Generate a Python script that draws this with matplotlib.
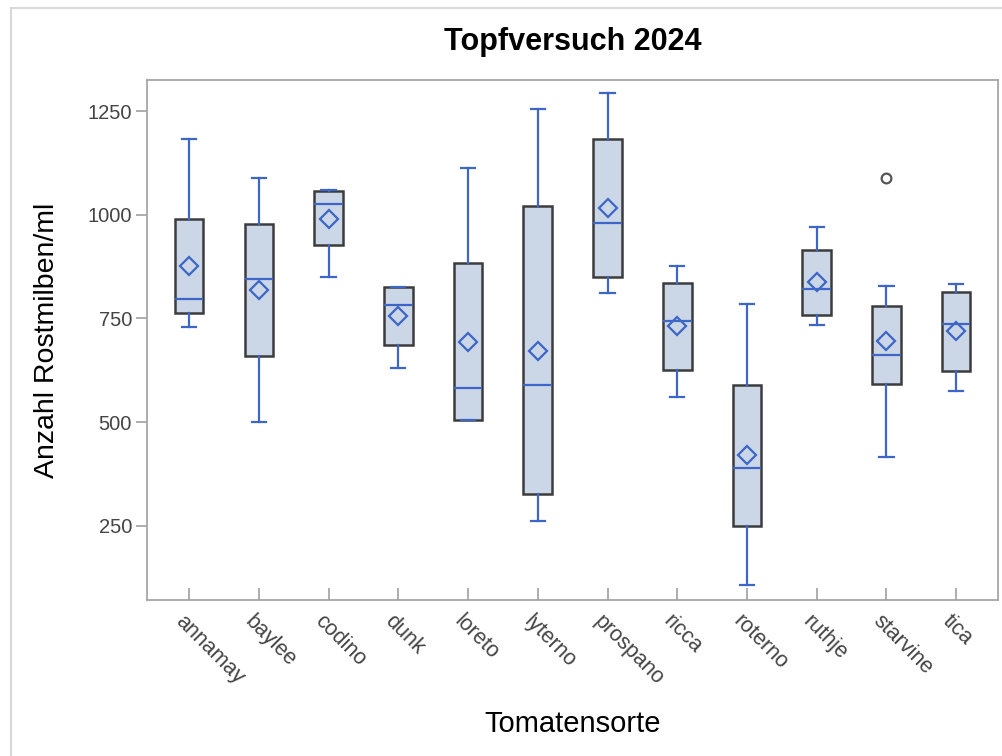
import matplotlib
matplotlib.use("Agg")
import matplotlib.pyplot as plt
from matplotlib.patches import Rectangle
import matplotlib.transforms as mtransforms

plt.rcParams['font.family'] = ['Liberation Sans', 'DejaVu Sans']

# Daten
sorten = ['annamay', 'baylee', 'codino', 'dunk', 'loreto', 'lyterno',
          'prospano', 'ricca', 'roterno', 'ruthje', 'starvine', 'tica']
whisker_lo = [730, 500, 850, 630, 504, 262, 812, 560, 108, 735, 416, 575]
q1 = [762, 660, 927, 686, 506, 327, 850, 626, 248, 758, 593, 622]
median = [796, 845, 1027, 782, 582, 589, 981, 745, 390, 821, 662, 736]
q3 = [989, 977, 1057, 825, 883, 1021, 1183, 836, 589, 915, 779, 814]
whisker_hi = [1184, 1088, 1060, 825, 1113, 1256, 1295, 877, 784, 970, 829, 832]
mittel = [877, 819, 991, 755, 693, 672, 1017, 731, 420, 837, 696, 719]
ausreisser = [[], [], [], [], [], [], [], [], [], [], [1090], []]

stats = []
for i in range(len(sorten)):
    stats.append({'label': sorten[i], 'whislo': whisker_lo[i], 'q1': q1[i],
                  'med': median[i], 'q3': q3[i], 'whishi': whisker_hi[i],
                  'mean': mittel[i], 'fliers': ausreisser[i]})

blau = '#3d66c6'
fig = plt.figure(figsize=(10.02, 7.56), dpi=100)
ax = fig.add_axes([0.147, 0.206, 0.849, 0.688])

ax.bxp(stats, positions=range(1, 13), widths=0.41, patch_artist=True,
       showmeans=True, showfliers=True,
       boxprops=dict(facecolor='#cbd6e7', edgecolor='#3c3c3c', linewidth=1.8),
       whiskerprops=dict(color=blau, linewidth=1.6),
       capprops=dict(color=blau, linewidth=1.6),
       medianprops=dict(color=blau, linewidth=1.6),
       meanprops=dict(marker='D', markerfacecolor='none', markeredgecolor=blau,
                      markeredgewidth=1.6, markersize=9),
       flierprops=dict(marker='o', markerfacecolor='none', markeredgecolor='#555555',
                       markeredgewidth=1.6, markersize=7))

ax.set_xlim(0.4, 12.6)
ax.set_ylim(70, 1325)
ax.set_yticks([250, 500, 750, 1000, 1250])

for s in ax.spines.values():
    s.set_color('#a0a0a0')
    s.set_linewidth(1.2)
ax.tick_params(axis='y', colors='#a0a0a0', length=8, width=1.2, direction='out',
               labelcolor='#444444', labelsize=14.5, pad=3)
ax.tick_params(axis='x', colors='#a0a0a0', length=9, width=1.2, direction='in',
               labelcolor='#444444', labelsize=15.5, pad=4)
ax.set_xticklabels(sorten, rotation=-45, ha='left', va='top', rotation_mode='anchor')
verschiebung = mtransforms.ScaledTranslation(-3 / 100, -5 / 100, fig.dpi_scale_trans)
for lab in ax.get_xticklabels():
    lab.set_transform(lab.get_transform() + verschiebung)

ax.set_title('Topfversuch 2024', fontsize=22, fontweight='bold', pad=22)
ax.set_xlabel('Tomatensorte', fontsize=21, labelpad=15)
ax.set_ylabel('Anzahl Rostmilben/ml', fontsize=20.5, labelpad=20)

# Rahmen um die Grafik
fig.patches.append(Rectangle((0.011, -0.01), 1.0, 0.999, transform=fig.transFigure,
                             fill=False, edgecolor='#d8d8d8', linewidth=1.5))

fig.savefig('out.png', dpi=100)
